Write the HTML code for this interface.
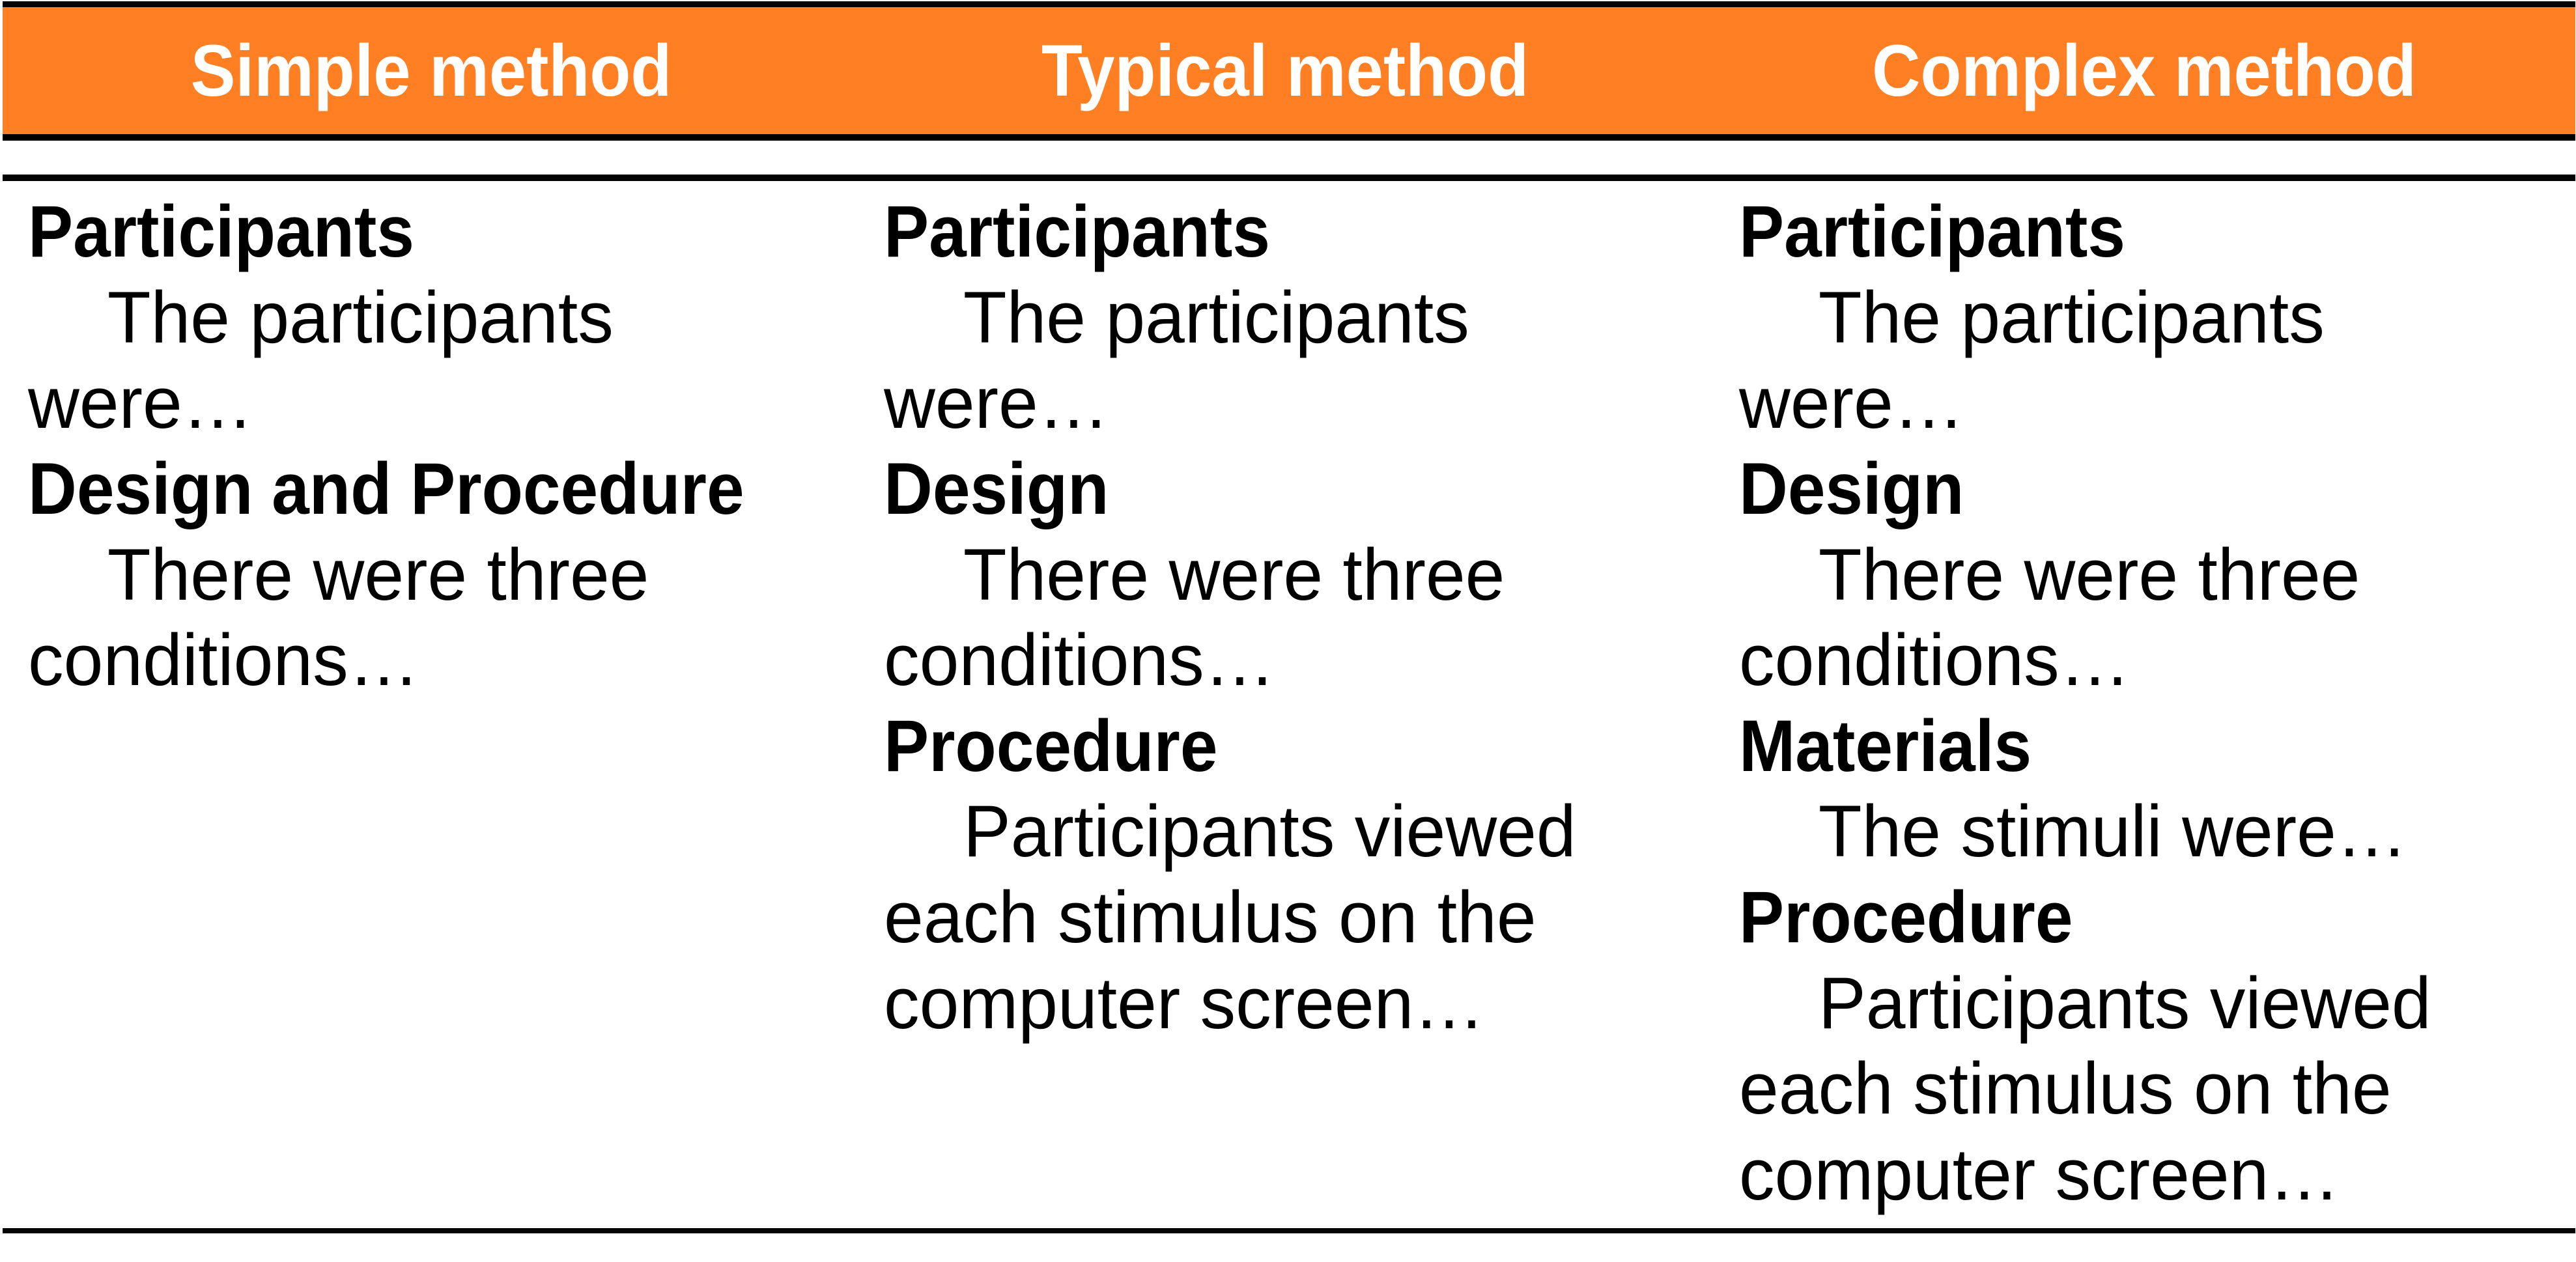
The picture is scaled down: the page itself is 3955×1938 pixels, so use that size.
<!DOCTYPE html>
<html><head><meta charset="utf-8"><style>
html,body{margin:0;padding:0;background:#fff;}
body{width:3955px;height:1938px;position:relative;overflow:hidden;font-family:"Liberation Sans",Arial,sans-serif;}
.bar{position:absolute;left:4px;width:3950px;background:#000;}
.h{position:absolute;top:53px;width:1200px;text-align:center;color:#fff;font-weight:bold;font-size:112px;line-height:1;white-space:nowrap;transform:scaleX(0.92);transform-origin:center;}
.l{position:absolute;font-size:112px;line-height:1;white-space:nowrap;color:#000;transform-origin:left;transform:scaleX(0.975);}
.b{font-weight:bold;transform:scaleX(0.925);}
.i{padding-left:125px;}
</style></head><body>
<div class="bar" style="top:2px;height:9px"></div>
<div style="position:absolute;left:4px;top:11px;width:3950px;height:196px;background:#FF7F22"></div>
<div class="bar" style="top:206px;height:10px"></div>
<div class="bar" style="top:268px;height:10px"></div>
<div class="bar" style="top:1886px;height:8px"></div>

<div class="h" style="left:62px">Simple method</div>
<div class="h" style="left:1373px">Typical method</div>
<div class="h" style="left:2692px">Complex method</div>

<!-- col1 -->
<div class="l b" style="left:43px;top:300px">Participants</div>
<div class="l i" style="left:43px;top:432px">The participants</div>
<div class="l" style="left:43px;top:563px">were…</div>
<div class="l b" style="left:43px;top:695px">Design and Procedure</div>
<div class="l i" style="left:43px;top:827px">There were three</div>
<div class="l" style="left:43px;top:958px">conditions…</div>

<!-- col2 -->
<div class="l b" style="left:1357px;top:300px">Participants</div>
<div class="l i" style="left:1357px;top:432px">The participants</div>
<div class="l" style="left:1357px;top:563px">were…</div>
<div class="l b" style="left:1357px;top:695px">Design</div>
<div class="l i" style="left:1357px;top:827px">There were three</div>
<div class="l" style="left:1357px;top:958px">conditions…</div>
<div class="l b" style="left:1357px;top:1090px">Procedure</div>
<div class="l i" style="left:1357px;top:1221px">Participants viewed</div>
<div class="l" style="left:1357px;top:1353px">each stimulus on the</div>
<div class="l" style="left:1357px;top:1485px">computer screen…</div>

<!-- col3 -->
<div class="l b" style="left:2670px;top:300px">Participants</div>
<div class="l i" style="left:2670px;top:432px">The participants</div>
<div class="l" style="left:2670px;top:563px">were…</div>
<div class="l b" style="left:2670px;top:695px">Design</div>
<div class="l i" style="left:2670px;top:827px">There were three</div>
<div class="l" style="left:2670px;top:958px">conditions…</div>
<div class="l b" style="left:2670px;top:1090px">Materials</div>
<div class="l i" style="left:2670px;top:1221px">The stimuli were…</div>
<div class="l b" style="left:2670px;top:1353px">Procedure</div>
<div class="l i" style="left:2670px;top:1485px">Participants viewed</div>
<div class="l" style="left:2670px;top:1616px">each stimulus on the</div>
<div class="l" style="left:2670px;top:1748px">computer screen…</div>
</body></html>
